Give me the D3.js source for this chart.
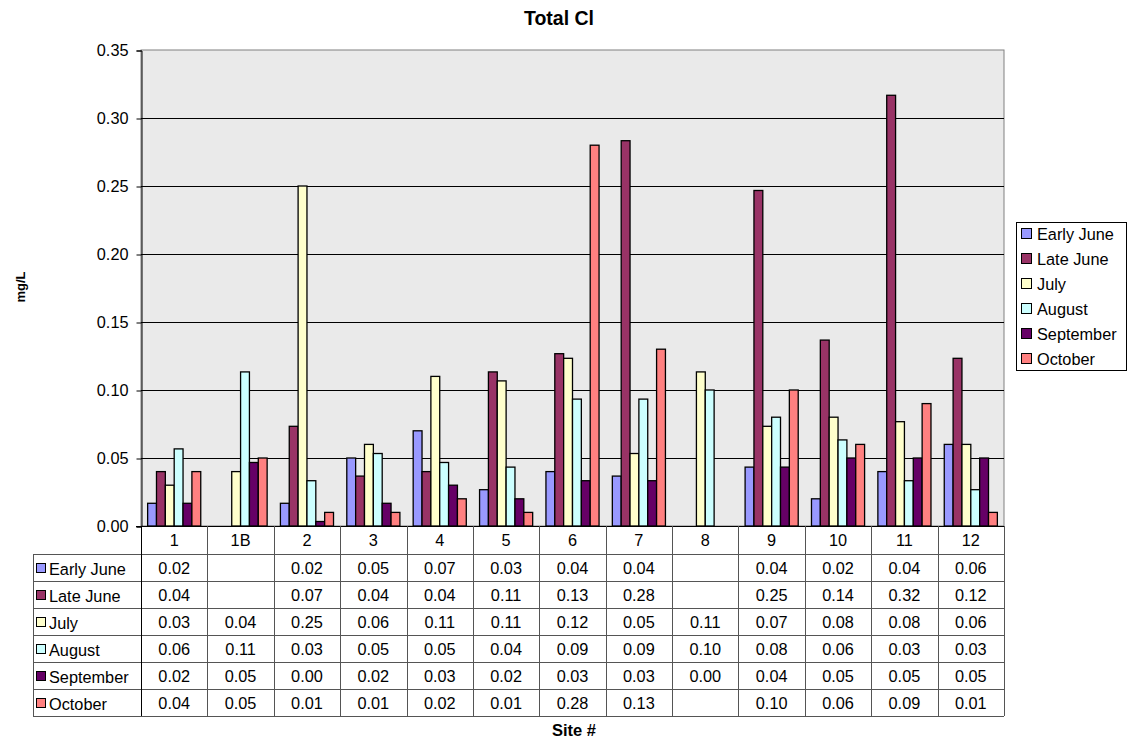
<!DOCTYPE html>
<html>
<head>
<meta charset="utf-8">
<script src="https://cdn.jsdelivr.net/npm/d3@7/dist/d3.min.js"></script>
<style>
  html, body { margin: 0; padding: 0; background: #fff; }
  svg { display: block; font-family: "Liberation Sans", Arial, sans-serif; }
</style>
</head>
<body>
<svg id="chart" width="1128" height="741"></svg>
<script>
const sites = ["1", "1B", "2", "3", "4", "5", "6", "7", "8", "9", "10", "11", "12"];
const seriesNames = ["Early June", "Late June", "July", "August", "September", "October"];
const seriesColors = ["#9999FF", "#993366", "#FFFFCC", "#CCFFFF", "#660066", "#FF8080"];
const earlyJune = [0.0167, null, 0.0167, 0.05, 0.07, 0.0267, 0.04, 0.0367, null, 0.0433, 0.02, 0.04, 0.06];
const lateJune  = [0.04, null, 0.0733, 0.0367, 0.04, 0.1133, 0.1267, 0.2833, null, 0.2467, 0.1367, 0.3167, 0.1233];
const july      = [0.03, 0.04, 0.25, 0.06, 0.11, 0.1067, 0.1233, 0.0533, 0.1133, 0.0733, 0.08, 0.0767, 0.06];
const august    = [0.0567, 0.1133, 0.0333, 0.0533, 0.0467, 0.0433, 0.0933, 0.0933, 0.10, 0.08, 0.0633, 0.0333, 0.0267];
const september = [0.0167, 0.0467, 0.0033, 0.0167, 0.03, 0.02, 0.0333, 0.0333, 0.0, 0.0433, 0.05, 0.05, 0.05];
const october   = [0.04, 0.05, 0.01, 0.01, 0.02, 0.01, 0.28, 0.13, null, 0.10, 0.06, 0.09, 0.01];
const yTicks = [0, 0.05, 0.10, 0.15, 0.20, 0.25, 0.30, 0.35];

const seriesValues = [earlyJune, lateJune, july, august, september, october];
const series = seriesNames.map((name, i) => ({ name, color: seriesColors[i], values: seriesValues[i] }));

const svg = d3.select("#chart");
const plot = { left: 141, right: 1004, top: 50, bottom: 526 };
const FS = 16.3;

const y = d3.scaleLinear().domain([0, 0.35]).range([plot.bottom, plot.top]);
const x0 = d3.scaleBand().domain(sites).range([plot.left, plot.right]).padding(0);
const bw = x0.bandwidth();
const x1 = d3.scaleBand().domain(seriesNames).range([bw * 0.1, bw * 0.9]).padding(0);

// Plot background
svg.append("rect")
  .attr("x", plot.left).attr("y", plot.top)
  .attr("width", plot.right - plot.left).attr("height", plot.bottom - plot.top)
  .attr("fill", "#EAEAEA").attr("stroke", "#808080").attr("stroke-width", 1);

// Gridlines
svg.append("g").selectAll("line")
  .data(yTicks.filter(t => t > 0 && t < 0.35))
  .join("line")
  .attr("x1", plot.left).attr("x2", plot.right)
  .attr("y1", d => Math.round(y(d)) + 0.5).attr("y2", d => Math.round(y(d)) + 0.5)
  .attr("stroke", "#000").attr("stroke-width", 1);

// Y axis
const yAxis = d3.axisLeft(y).tickValues(yTicks).tickFormat(d3.format(".2f")).tickSize(5).tickPadding(8);
const yg = svg.append("g").attr("transform", `translate(${plot.left + 0.5},0.5)`).call(yAxis);
yg.select(".domain").attr("stroke", "#000");
yg.selectAll(".tick line").attr("stroke", "#000");
yg.selectAll("text").attr("font-size", FS).attr("fill", "#000")
  .attr("font-family", "'Liberation Sans', Arial, sans-serif");

// Bars
const groups = svg.append("g").selectAll("g")
  .data(sites)
  .join("g")
  .attr("transform", d => `translate(${x0(d)},0)`);

groups.selectAll("rect")
  .data((site, si) => series.map(s => ({ name: s.name, color: s.color, v: s.values[si] })).filter(d => d.v !== null && d.v > 0))
  .join("rect")
  .attr("x", d => x1(d.name))
  .attr("y", d => y(d.v))
  .attr("width", x1.bandwidth())
  .attr("height", d => y(0) - y(d.v))
  .attr("fill", d => d.color)
  .attr("stroke", "#000")
  .attr("stroke-width", 1.3);

// Baseline
svg.append("line")
  .attr("x1", plot.left - 5).attr("x2", plot.right)
  .attr("y1", plot.bottom + 0.5).attr("y2", plot.bottom + 0.5)
  .attr("stroke", "#000");

// Data table
const headerH = 28, rowH = 27;
const tableLeft = 33;
const tableTop = plot.bottom;
const tableBottom = tableTop + headerH + rowH * series.length;
const fmt = d3.format(".2f");
const table = svg.append("g").attr("font-size", FS).attr("fill", "#000");

// horizontal lines
const hLines = [tableTop + headerH];
for (let i = 1; i <= series.length; i++) hLines.push(tableTop + headerH + rowH * i);
table.selectAll("line.h").data(hLines).join("line")
  .attr("class", "h")
  .attr("x1", tableLeft).attr("x2", plot.right)
  .attr("y1", d => Math.round(d) + 0.5).attr("y2", d => Math.round(d) + 0.5)
  .attr("stroke", "#555");
table.append("line")
  .attr("x1", plot.left).attr("x2", plot.right)
  .attr("y1", tableTop + 0.5).attr("y2", tableTop + 0.5).attr("stroke", "#000");

// vertical lines
const vLines = sites.map(s => x0(s)).concat([plot.right]);
table.selectAll("line.v").data(vLines).join("line")
  .attr("class", "v")
  .attr("x1", d => Math.round(d) + 0.5).attr("x2", d => Math.round(d) + 0.5)
  .attr("y1", tableTop).attr("y2", tableBottom)
  .attr("stroke", (d, i) => i === 0 ? "#000" : "#555");
table.append("line")
  .attr("x1", tableLeft + 0.5).attr("x2", tableLeft + 0.5)
  .attr("y1", tableTop + headerH).attr("y2", tableBottom)
  .attr("stroke", "#555");

// header labels
table.selectAll("text.cat").data(sites).join("text")
  .attr("class", "cat")
  .attr("x", d => x0(d) + bw / 2)
  .attr("y", tableTop + headerH / 2 + 6)
  .attr("text-anchor", "middle")
  .text(d => d);

// rows
series.forEach((s, ri) => {
  const cy = tableTop + headerH + rowH * ri + rowH / 2;
  table.append("rect")
    .attr("x", 36.5).attr("y", Math.round(cy - 5) + 0.5)
    .attr("width", 9).attr("height", 9)
    .attr("fill", s.color).attr("stroke", "#000");
  table.append("text")
    .attr("x", 49).attr("y", cy + 7)
    .text(s.name);
  table.selectAll(null)
    .data(s.values.map((v, i) => ({ v, site: sites[i] })).filter(d => d.v !== null))
    .join("text")
    .attr("x", d => x0(d.site) + bw / 2)
    .attr("y", cy + 6)
    .attr("text-anchor", "middle")
    .text(d => fmt(d.v));
});

// Legend
const legend = svg.append("g").attr("font-size", FS);
legend.append("rect")
  .attr("x", 1016.5).attr("y", 222.5).attr("width", 110).attr("height", 148)
  .attr("fill", "#fff").attr("stroke", "#000");
series.forEach((s, i) => {
  const cy = 234 + i * 25;
  legend.append("rect")
    .attr("x", 1021.5).attr("y", cy - 5.5).attr("width", 10).attr("height", 10)
    .attr("fill", s.color).attr("stroke", "#000");
  legend.append("text")
    .attr("x", 1037).attr("y", cy + 6)
    .text(s.name);
});

// Titles
svg.append("text")
  .attr("x", 559).attr("y", 25)
  .attr("text-anchor", "middle").attr("font-weight", "bold").attr("font-size", 19.5)
  .text("Total Cl");
svg.append("text")
  .attr("transform", "translate(25,287) rotate(-90)")
  .attr("text-anchor", "middle").attr("font-weight", "bold").attr("font-size", 13)
  .text("mg/L");
svg.append("text")
  .attr("x", 574).attr("y", 736)
  .attr("text-anchor", "middle").attr("font-weight", "bold").attr("font-size", 16.5)
  .text("Site #");
</script>
</body>
</html>
